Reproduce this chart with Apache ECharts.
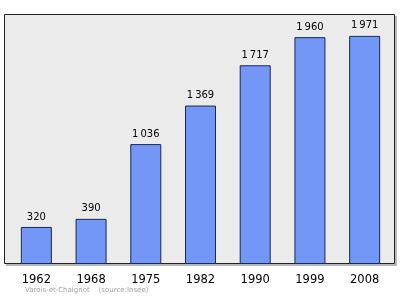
<!DOCTYPE html>
<html><head><meta charset="utf-8">
<script src="https://cdn.jsdelivr.net/npm/echarts@6/dist/echarts.min.js"></script>
<style>html,body{margin:0;padding:0;background:#fff}#c{width:400px;height:299px}</style>
</head><body><div id="c"></div>
<script>
const years = ['1962','1968','1975','1982','1990','1999','2008'];
const population = [320, 390, 1036, 1369, 1717, 1960, 1971];
const footer = 'Varois-et-Chaignot    (source:Insee)';

const fmt = v => { const s = String(v); return s.length > 3 ? s.slice(0, s.length-3) + '\u2009' + s.slice(-3) : s; };

const chart = echarts.init(document.getElementById('c'), null, {renderer:'canvas'});
chart.setOption({
  animation:false,
  backgroundColor:'#ffffff',
  graphic:[
    {type:'rect', shape:{x:6,y:16,width:391,height:250}, style:{fill:'#b8b8b8'}, z:-2},
    {type:'rect', shape:{x:4.5,y:14.5,width:390,height:249}, style:{fill:'#ebebeb', stroke:'#222', lineWidth:1}, z:-1},
    {type:'text', left:25, top:287, style:{text:footer, fill:'#a0a0a0', font:'7px "DejaVu Sans"'}}
  ],
  grid:{left:9, width:383, top:14, bottom:35, containLabel:false},
  xAxis:{type:'category', data:years,
    axisLine:{show:false}, axisTick:{show:false},
    axisLabel:{color:'#000', fontFamily:'DejaVu Sans', fontSize:11.5, margin:10}},
  yAxis:{type:'value', min:0, max:2160, show:false, splitLine:{show:false}},
  series:[{type:'bar', data:population, barWidth:31,
    itemStyle:{color:'#7297f7', borderColor:'#1c2850', borderWidth:1},
    label:{show:true, position:'top', distance:5, color:'#000', fontFamily:'DejaVu Sans', fontSize:10,
      formatter:p=>fmt(p.value)}}]
});
</script></body></html>
